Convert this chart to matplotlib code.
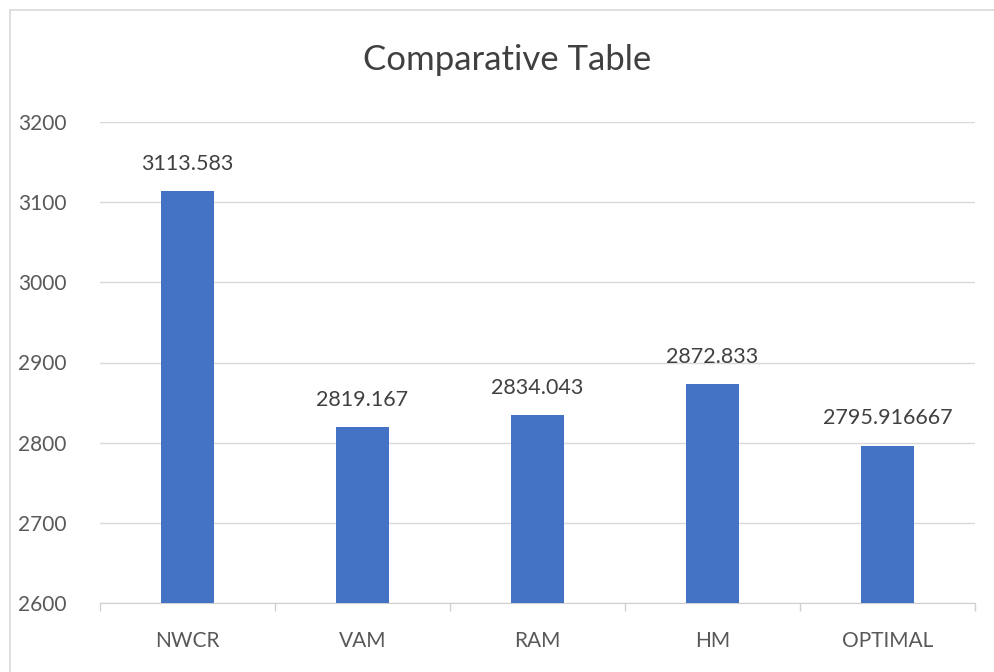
import matplotlib.pyplot as plt
import numpy as np
from matplotlib.patches import Rectangle

categories = ['NWCR', 'VAM', 'RAM', 'HM', 'OPTIMAL']
values = [3113.583, 2819.167, 2834.043, 2872.833, 2795.916667]
value_labels = ['3113.583', '2819.167', '2834.043', '2872.833', '2795.916667']
yticks = [2600, 2700, 2800, 2900, 3000, 3100, 3200]

plt.rcParams['font.family'] = ['Lato', 'DejaVu Sans']

fig = plt.figure(figsize=(9.94, 6.72), dpi=100)
ax = fig.add_axes([100 / 994, 1 - 603 / 672, 875 / 994, 481 / 672])

x = np.arange(len(categories))
ax.bar(x, values, width=0.3, color='#4472C4', zorder=3)
for xi, v, lab in zip(x, values, value_labels):
    ax.text(xi, v + 22, lab, ha='center', va='bottom', fontsize=15.5, color='#404040')

ax.set_ylim(2600, 3200)
ax.set_xlim(-0.5, len(categories) - 0.5)
ax.set_yticks(yticks)
ax.set_xticks(x)
ax.set_xticklabels(categories)
ax.set_xticks(np.arange(-0.5, len(categories)), minor=True)
ax.tick_params(axis='x', which='major', length=0, pad=20, labelsize=15, labelcolor='#595959')
ax.tick_params(axis='x', which='minor', length=6, color='#d0d0d0', width=1)
ax.tick_params(axis='y', length=0, pad=24, labelsize=15, labelcolor='#595959')
ax.grid(axis='y', color='#d9d9d9', lw=1, zorder=0)
for s in ['top', 'right', 'left']:
    ax.spines[s].set_visible(False)
ax.spines['bottom'].set_color('#d0d0d0')

fig.text(507 / 994, 1 - 60 / 672, 'Comparative Table', ha='center', va='center',
         fontsize=25, color='#404040')

fig.patches.append(Rectangle((10 / 994, -0.1), 1.2, 1 - 10 / 672 + 0.1,
                             transform=fig.transFigure, fill=False,
                             edgecolor='#d9d9d9', lw=1.2))

fig.savefig('out.png', dpi=100)
